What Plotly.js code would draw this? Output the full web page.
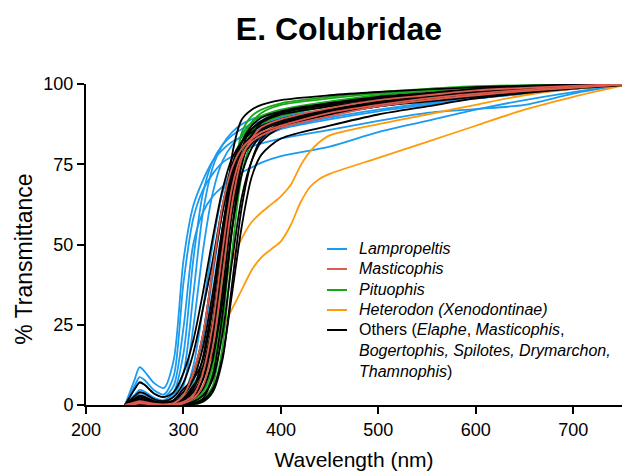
<!DOCTYPE html>
<html>
<head>
<meta charset="utf-8">
<script src="https://cdn.plot.ly/plotly-3.0.1.min.js"></script>
<style>html,body{margin:0;padding:0;background:#fff;}#chart{width:622px;height:472px;}</style>
</head>
<body>
<div id="chart"></div>
<script>
// Wavelength grid (nm)
const wl = [240,250,255,260,270,280,290,300,310,320,330,340,350,360,370,380,400,450,500,550,600,650,700,750];
const hetWl = [270,290,300,310,320,330,340,350,360,370,380,390,400,410,420,430,440,450,500,550,600,650,700,750];

// Lampropeltis (% transmittance)
const lamp1 = [0,8,11.8,10.5,6.8,5.3,14,45,62,70,76,79.5,82,83.5,85,86.5,88.5,91.5,93.5,95,96.5,97.5,98.5,99.8];
const lamp2 = [0,6,8.7,7.8,4.6,3.3,9,38,58,67,72,75.5,77.5,79,80.5,81.5,83,85.7,88.5,91,92.2,93.5,97,99.7];
const lamp3 = [0,5,7.2,6.4,3.6,2.5,6,24,50,60,65,68,70.5,72.5,74,75.5,77.5,80.5,85,88.5,92,95,97.5,99.6];
const lamp4 = [0,3.2,4.7,4.2,2.2,1.5,4,16,45,66,76,81,84,86,87.5,88.5,90,92,93.5,95,96.5,97.5,98.5,99.8];
const lamp5 = [0,2.5,3.7,3.3,1.6,1,3,10,34,60,74,81,85,87.5,89,90,91.5,93.5,95,96,97.5,98.5,99.2,100];
const lamp6 = [0,1.8,2.6,2.3,1,0.6,1.5,6,24,48,66,76,81,84,86,87.5,89.5,92,93.5,95,96.5,97.5,98.5,99.7];
const lamp7 = [0,1.2,1.8,1.5,0.6,0.3,1,3,12,30,50,66,74,78.5,81,83,86,89.5,92,94,95.5,97,98.5,99.7];
const lamp8 = [0,0.8,1.2,1,0.4,0.2,0.5,2,7,20,40,60,72,78,81.5,83.5,86,89,91.5,93.5,95.5,97,98.5,99.7];

// Masticophis
const mast1 = [0,0.8,1.2,1,0.4,0.2,0.6,3,10,22,42,62,74,80,83,85,87,91,93.5,95.5,97,98.2,99,99.8];
const mast2 = [0,0.5,0.8,0.6,0.2,0,0.2,1,3,10,25,48,68,78,82,84,86.5,90,93,95,96.5,97.8,98.8,99.8];
const mast3 = [0,0.3,0.5,0.4,0.1,0,0,0.5,2,6,18,40,63,77,83,86.5,89,92.5,95,96.5,98,98.8,99.4,100];

// Pituophis
const pit1 = [0,0.5,0.8,0.7,0.2,0,0,0.3,1,3,10,32,66,85,90,92,94,96,97.5,98.5,99.3,99.6,99.8,100];
const pit2 = [0,0.3,0.5,0.4,0.1,0,0,0.2,1,5,15,40,70,84,88,90,92,94.5,96,97,98,98.8,99.4,100];
const pit3 = [0,0.6,1,0.8,0.3,0.1,0.5,2,6,12,22,45,70,82,86,88,90.5,93.5,95.5,97,98,99,99.5,100];
const pit4 = [0,0.2,0.3,0.2,0,0,0,0,0.5,2,6,25,55,76,84,87.5,90,93,95,96.5,97.5,98.5,99.3,100];
const pit5 = [0,0.4,0.6,0.5,0.2,0,0.2,1,3,8,18,38,62,78,85,88.5,91.5,94.5,96.5,97.8,98.8,99.4,99.7,100];
const pit6 = [0,0.1,0.2,0.1,0,0,0,0,0,1,4,18,48,72,82,86,89,92,94.5,96,97.5,98.5,99.2,99.8];
const pit7 = [0,0.2,0.4,0.3,0.1,0,0,0.5,1.5,4,12,35,65,82,88,91,93.5,95.5,97,98.2,99,99.5,99.8,100];

// Heterodon (Xenodontinae)
const het1 = [0,0.5,3,9,18,25,35,45,52,57,60,62.5,65,68.5,74.5,79,82,84,87.5,90.5,93.5,96.5,98.5,99.5];
const het2 = [0,0.5,2,6,12,18,24,30,36,42,46,48.5,51,56,63,68,70.5,72,77,82,87,92,96,99.5];

// Others (Elaphe, Masticophis, Bogertophis, Spilotes, Drymarchon, Thamnophis)
const oth1 = [0,0.3,0.5,0.4,0.1,0,0,0.5,2,8,22,48,78,89,92,93.5,95,96.5,97.5,98.3,99,99.5,99.8,100];
const oth2 = [0,5,7,6.3,3.5,2.5,4,10,20,35,52,67,77,82,85,87,89,92,94,95.5,97,98,99,99.8];
const oth3 = [0,2.8,4,3.6,1.8,1.2,2.5,7,16,30,45,62,75,82,86,88,90.5,93,95,96.5,97.5,98.5,99.3,100];
const oth4 = [0,2,3,2.6,1.2,0.8,1.5,5,8,14,30,55,72,80,84,86,88.5,91.5,94,95.5,97,98,99,99.8];
const oth5 = [0,1.4,2,1.8,0.8,0.4,1,3,8,18,35,55,70,78,82,84.5,87,90.5,93,95,96.5,97.8,99,99.8];
const oth6 = [0,1,1.5,1.3,0.5,0.2,0.6,2,5,12,26,50,70,82,87,89.5,91.5,94,95.5,96.5,98,98.8,99.4,100];
const oth7 = [0,0.6,0.9,0.8,0.3,0.1,0.3,1,3,8,20,42,66,80,86,88.5,91,93.5,95.5,97,98.3,99,99.5,100];
const oth8 = [0,0.4,0.6,0.5,0.2,0,0.1,0.5,2,5,14,35,60,76,83,86,89,92,94.5,96,97.5,98.5,99.2,99.8];
const oth9 = [0,0.3,0.4,0.3,0.1,0,0,0.3,1,3,8,22,45,65,76,82,86.5,90.5,93,95,96.5,97.8,98.8,99.7];
const oth10 = [0,0.2,0.3,0.2,0,0,0,0,0.5,1.5,5,15,35,56,71,78,83,87,90.5,93,95.5,97.2,98.6,99.6];
const oth11 = [0,1.8,2.5,2.2,1,0.6,1.5,4,10,22,42,60,73,80,83.5,85.5,88,91,93.5,95,96.8,98,99,99.8];
const oth12 = [0,1.2,1.8,1.5,0.7,0.4,1,2,6,10,16,32,55,72,80,84,87.5,91,93.5,95.5,97,98.2,99.2,99.9];
const oth13 = [0,0.2,0.3,0.2,0,0,0,0,0.5,2,9,28,55,75,84,88,91,94,96,97.2,98.5,99.2,99.6,100];
const oth14 = [0,1,1.4,1.2,0.5,0.3,0.6,1.5,4,10,24,46,66,78,83,86,88.5,91.5,94,95.5,97,98.2,99,99.8];
const oth15 = [0,0.2,0.3,0.2,0,0,0,0,0.3,1,4,14,38,62,76,83,87.5,91,93.5,95.5,97,98,99,99.8];
const oth16 = [0,0.6,1,0.8,0.3,0.2,0.5,1.5,5,15,32,52,68,77,81.5,84,87,90.5,93,94.5,96,97.5,98.8,99.7];

// Legend labels (in legend order)
const legendLabels = [
  '<i>Lampropeltis</i>',
  '<i>Masticophis</i>',
  '<i>Pituophis</i>',
  '<i>Heterodon (Xenodontinae)</i>',
  'Others (<i>Elaphe</i>, <i>Masticophis</i>,<br><i>Bogertophis, Spilotes, Drymarchon,</i><br><i>Thamnophis</i>)'
];
const legendColors = ['#1a9bf0', '#dc5a4e', '#17a81a', '#ff9a0a', '#000000'];

const groups = [
  {key:'lamp', li:0, x:wl, series:[lamp1,lamp2,lamp3,lamp4,lamp5,lamp6,lamp7,lamp8]},
  {key:'het', li:3, x:hetWl, series:[het1,het2]},
  {key:'pit', li:2, x:wl, series:[pit1,pit2,pit3,pit4,pit5,pit6,pit7]},
  {key:'oth', li:4, x:wl, series:[oth1,oth2,oth3,oth4,oth5,oth6,oth7,oth8,oth9,oth10,oth11,oth12,oth13,oth14,oth15,oth16]},
  {key:'mast', li:1, x:wl, series:[mast1,mast2,mast3]}
];

const traces = [];
groups.forEach(g => {
  g.series.forEach((ys) => {
    traces.push({
      type:'scatter', mode:'lines', x:g.x, y:ys,
      name:legendLabels[g.li].replace(/<[^>]+>/g,''), legendgroup:g.key, showlegend:false,
      line:{color:legendColors[g.li], width:1.8, shape:'spline', smoothing:0.8},
      hoverinfo:'skip'
    });
  });
});

const font = 'Liberation Sans, Arial, sans-serif';

// Legend drawn inside the plot (paper coordinates)
const legX0 = 0.4496, legX1 = 0.4869, legTextX = 0.5056;
const legRowY = [0.486, 0.4237, 0.3583, 0.296, 0.2336];
const shapes = [];
const annotations = [];
legendLabels.forEach((lab, i) => {
  shapes.push({type:'line', xref:'paper', yref:'paper', x0:legX0, x1:legX1, y0:legRowY[i], y1:legRowY[i],
               line:{color:legendColors[i], width:2}});
  const multi = lab.indexOf('<br>') >= 0;
  annotations.push({xref:'paper', yref:'paper', x:legTextX, y: multi ? legRowY[i] - 0.0623 : legRowY[i],
                    xanchor:'left', yanchor:'middle', align:'left', showarrow:false, text:lab,
                    font:{family:font, size:16, color:'#000'}});
});
// y-axis title
annotations.push({xref:'paper', yref:'paper', x:-0.116, y:0.455, xanchor:'center', yanchor:'middle',
                  textangle:-90, showarrow:false, text:'% Transmittance',
                  font:{family:font, size:23, color:'#000'}});

const layout = {
  width:622, height:472,
  margin:{l:86, r:0, t:84, b:67},
  paper_bgcolor:'#fff', plot_bgcolor:'#fff',
  font:{family:font, color:'#000'},
  showlegend:false,
  title:{text:'<b>E. Colubridae</b>', font:{family:font, size:32, color:'#000'}, x:0.472, xref:'paper', xanchor:'center', y:0.94, yref:'container', yanchor:'middle'},
  xaxis:{range:[200,750], tickvals:[200,300,400,500,600,700], ticks:'outside', ticklen:7, tickwidth:2, tickcolor:'#000',
         showline:true, linewidth:2, linecolor:'#000', showgrid:false, zeroline:false,
         tickfont:{family:font, size:18, color:'#000'},
         title:{text:'Wavelength (nm)', font:{family:font, size:21, color:'#000'}, standoff:14}},
  yaxis:{range:[0,100], tickvals:[0,25,50,75,100], ticks:'outside', ticklen:7, tickwidth:2, tickcolor:'#000',
         showline:true, linewidth:2, linecolor:'#000', showgrid:false, zeroline:false,
         tickfont:{family:font, size:18, color:'#000'}},
  shapes:shapes,
  annotations:annotations
};

Plotly.newPlot('chart', traces, layout, {displayModeBar:false, staticPlot:true});
</script>
</body>
</html>
